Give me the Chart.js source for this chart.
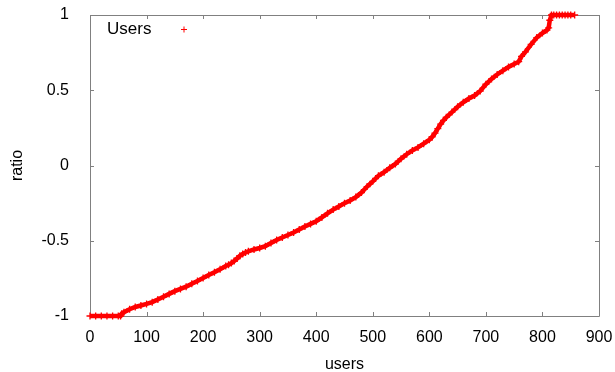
<!DOCTYPE html>
<html>
<head>
<meta charset="utf-8">
<script src="https://cdn.jsdelivr.net/npm/chart.js@4.4.1/dist/chart.umd.min.js"></script>
<style>
    html, body { margin: 0; padding: 0; background: #ffffff; }
    #chart { display: block; }
</style>
</head>
<body>
<canvas id="chart" width="615" height="372"></canvas>
<script>
"use strict";

// values (users sorted by ratio)
const aUsers = [
    0, 10, 20, 30, 40, 50, 54, 56, 60, 70, 80, 90, 100, 110, 120, 130, 140, 150,
    160, 170, 180, 190, 200, 210, 220, 230, 240, 245, 250, 255, 260, 265, 270,
    275, 280, 290, 300, 310, 320, 330, 340, 350, 360, 370, 380, 390, 400, 410,
    420, 430, 440, 450, 460, 470, 480, 490, 500, 510, 520, 530, 540, 550, 560,
    570, 580, 590, 600, 605, 610, 615, 620, 625, 630, 640, 650, 660, 670, 680,
    690, 700, 710, 720, 730, 740, 750, 758, 763, 770, 780, 790, 800, 808, 811,
    813, 816, 820, 825, 830, 835, 840, 845, 850, 857
];
const aRatio = [
    -1, -1, -1, -1, -1, -1, -1, -0.985, -0.975, -0.955, -0.94, -0.93, -0.92,
    -0.908, -0.89, -0.872, -0.853, -0.835, -0.82, -0.805, -0.785, -0.767,
    -0.748, -0.728, -0.71, -0.69, -0.668, -0.66, -0.648, -0.635, -0.618, -0.6,
    -0.588, -0.578, -0.57, -0.558, -0.548, -0.536, -0.515, -0.495, -0.478,
    -0.462, -0.445, -0.425, -0.405, -0.388, -0.37, -0.345, -0.318, -0.293,
    -0.272, -0.25, -0.232, -0.21, -0.18, -0.14, -0.105, -0.068, -0.045,
    -0.015, 0.01, 0.045, 0.075, 0.1, 0.12, 0.145, 0.171, 0.19, 0.215, 0.245,
    0.275, 0.3, 0.32, 0.355, 0.39, 0.42, 0.445, 0.465, 0.495, 0.54, 0.575,
    0.605, 0.63, 0.655, 0.675, 0.69, 0.725, 0.755, 0.805, 0.85, 0.88, 0.9,
    0.915, 0.965, 1, 1, 1, 1, 1, 1, 1, 1, 1
];
const aXTicks = [0, 100, 200, 300, 400, 500, 600, 700, 800, 900];
const aYTicks = [-1, -0.5, 0, 0.5, 1];
const aYTickLabels = ["-1", "-0.5", "0", "0.5", "1"];

const sFont = "'Liberation Sans', Arial, sans-serif";

// gnuplot style frame with inward ticks on all four sides, plus the key
const oFramePlugin = {
    id: "frame",
    beforeDatasetsDraw: function(oChart) {
        const oCtx = oChart.ctx;
        const oArea = oChart.chartArea;
        const oX = oChart.scales.x;
        const oY = oChart.scales.y;
        const iTick = 4;

        oCtx.save();
        oCtx.strokeStyle = "#808080";
        oCtx.lineWidth = 1;
        oCtx.beginPath();
        oCtx.rect(oArea.left + 0.5, oArea.top + 0.5, oArea.right - oArea.left, oArea.bottom - oArea.top);

        aXTicks.forEach(function(fValue) {
            const fPx = Math.round(oX.getPixelForValue(fValue)) + 0.5;
            oCtx.moveTo(fPx, oArea.bottom);
            oCtx.lineTo(fPx, oArea.bottom - iTick);
            oCtx.moveTo(fPx, oArea.top);
            oCtx.lineTo(fPx, oArea.top + iTick);
        });
        aYTicks.forEach(function(fValue) {
            const fPy = Math.round(oY.getPixelForValue(fValue)) + 0.5;
            oCtx.moveTo(oArea.left, fPy);
            oCtx.lineTo(oArea.left + iTick, fPy);
            oCtx.moveTo(oArea.right, fPy);
            oCtx.lineTo(oArea.right - iTick, fPy);
        });
        oCtx.stroke();
        oCtx.restore();
    },
    afterDraw: function(oChart) {
        const oCtx = oChart.ctx;
        const oArea = oChart.chartArea;
        const sLabel = oChart.data.datasets[0].label;

        oCtx.save();
        oCtx.font = "17px " + sFont;
        oCtx.fillStyle = "#000000";
        oCtx.textBaseline = "alphabetic";
        oCtx.textAlign = "left";
        oCtx.fillText(sLabel, oArea.left + 17, oArea.top + 19);

        // key sample
        const fMx = oArea.left + 94;
        const fMy = oArea.top + 14.5;
        oCtx.strokeStyle = "#ff0000";
        oCtx.lineWidth = 1;
        oCtx.beginPath();
        oCtx.moveTo(fMx - 3, fMy);
        oCtx.lineTo(fMx + 3, fMy);
        oCtx.moveTo(fMx, fMy - 3);
        oCtx.lineTo(fMx, fMy + 3);
        oCtx.stroke();
        oCtx.restore();
    }
};

const oCanvas = document.getElementById("chart");

const oChart = new Chart(oCanvas.getContext("2d"), {
    type: "scatter",
    data: {
        datasets: [{
            label: "Users",
            data: aUsers.map(function(iUser, iIndex) {
                return { x: iUser, y: aRatio[iIndex] };
            }),
            showLine: true,
            borderColor: "#ff0000",
            borderWidth: 4.5,
            backgroundColor: "#ff0000",
            pointStyle: "cross",
            pointRadius: 3.5,
            pointBorderWidth: 1.3,
            pointBorderColor: "#ff0000",
            pointHoverRadius: 3.5,
            clip: false
        }]
    },
    options: {
        responsive: false,
        devicePixelRatio: 1,
        animation: false,
        events: [],
        layout: {
            padding: { left: 0, right: 16, top: 15, bottom: 0 }
        },
        plugins: {
            legend: { display: false },
            tooltip: { enabled: false }
        },
        scales: {
            x: {
                type: "linear",
                min: 0,
                max: 900,
                afterFit: function(oScale) {
                    oScale.height = 56;
                    oScale.paddingLeft = 0;
                    oScale.paddingRight = 0;
                },
                afterBuildTicks: function(oScale) {
                    oScale.ticks = aXTicks.map(function(v) { return { value: v }; });
                },
                grid: { display: false },
                border: { display: false },
                ticks: {
                    color: "#000000",
                    padding: 4,
                    maxRotation: 0,
                    font: { family: sFont, size: 16 }
                },
                title: {
                    display: true,
                    text: "users",
                    color: "#000000",
                    padding: { top: 0, bottom: 0 },
                    font: { family: sFont, size: 16, lineHeight: 0.875 }
                }
            },
            y: {
                type: "linear",
                min: -1,
                max: 1,
                afterFit: function(oScale) {
                    oScale.width = 90;
                    oScale.paddingTop = 0;
                    oScale.paddingBottom = 0;
                },
                afterBuildTicks: function(oScale) {
                    oScale.ticks = aYTicks.map(function(v) { return { value: v }; });
                },
                grid: { display: false },
                border: { display: false },
                ticks: {
                    color: "#000000",
                    padding: 13,
                    font: { family: sFont, size: 16 },
                    callback: function(fValue) {
                        return aYTickLabels[aYTicks.indexOf(fValue)];
                    }
                },
                title: {
                    display: true,
                    text: "ratio",
                    color: "#000000",
                    padding: { top: 8, bottom: 0 },
                    font: { family: sFont, size: 16 }
                }
            }
        }
    },
    plugins: [oFramePlugin]
});
</script>
</body>
</html>
